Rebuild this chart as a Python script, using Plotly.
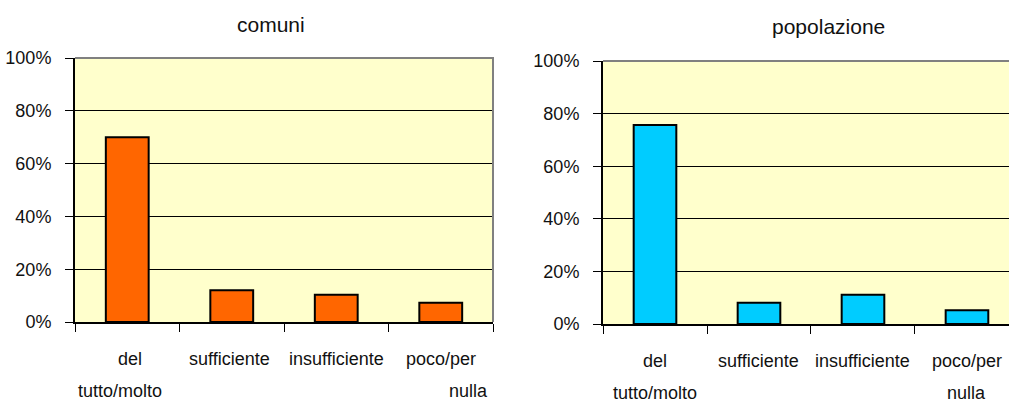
import plotly.graph_objects as go

categories = ["del tutto/molto", "sufficiente", "insufficiente", "poco/per nulla"]
label_line1 = ["del", "sufficiente", "insufficiente", "poco/per"]
label_line2 = ["tutto/molto", "", "", "nulla"]
comuni = [0.70, 0.12, 0.103, 0.073]
popolazione = [0.757, 0.081, 0.111, 0.052]
titles = ["comuni", "popolazione"]
y_ticks = [0, 0.2, 0.4, 0.6, 0.8, 1.0]

W, H = 1009, 403
TICK_FONT = dict(family="Liberation Sans, Arial", size=18, color="#111111")
TITLE_FONT = dict(family="Liberation Sans, Arial", size=21, color="#111111")

fig = go.Figure()
fig.add_trace(go.Bar(x=categories, y=comuni, marker=dict(color="#FF6600", line=dict(color="black", width=2)),
                     xaxis="x", yaxis="y", width=0.41, showlegend=False))
fig.add_trace(go.Bar(x=categories, y=popolazione, marker=dict(color="#00CCFF", line=dict(color="black", width=2)),
                     xaxis="x2", yaxis="y2", width=0.41, showlegend=False))

def px(v):
    return v / W

def py(v):
    return (H - v) / H

common_x = dict(type="category", showline=True, linecolor="black", linewidth=2, ticks="outside",
                tickson="boundaries", ticklen=8, tickcolor="black", tickwidth=1, showticklabels=False,
                showgrid=False, zeroline=False, fixedrange=True, automargin=False)
common_y = dict(range=[0, 1], tickvals=y_ticks, tickformat=".0%", showline=True, linecolor="black", linewidth=2,
                ticks="outside", ticklen=8, tickcolor="black", tickwidth=1, showgrid=True, gridcolor="black",
                gridwidth=1, zeroline=False, tickfont=TICK_FONT, ticklabelstandoff=10, automargin=False,
                fixedrange=True)

fig.update_layout(
    width=W, height=H,
    margin=dict(l=0, r=0, t=0, b=0, autoexpand=False),
    paper_bgcolor="white",
    plot_bgcolor="#FFFFCC",
    bargap=0.6,
    xaxis=dict(common_x, domain=[px(75), px(493)], range=[-0.5, 3.5], anchor="y"),
    yaxis=dict(common_y, domain=[py(322), py(58)], anchor="x"),
    xaxis2=dict(common_x, domain=[px(603), 1.0], range=[-0.5, 3.404], anchor="y2"),
    yaxis2=dict(common_y, domain=[py(324), py(61)], anchor="x2"),
)

annotations = []
annotations.append(dict(text=titles[0], x=px(271), y=py(24), xref="paper", yref="paper", showarrow=False,
                        font=TITLE_FONT, xanchor="center", yanchor="middle"))
annotations.append(dict(text=titles[1], x=px(828), y=py(26), xref="paper", yref="paper", showarrow=False,
                        font=TITLE_FONT, xanchor="center", yanchor="middle"))

shifts = {
    "x": ([3, -2, 0, 0], [-7, 0, 0, 28]),
    "x2": ([0, 0, 0, 0], [0, 0, 0, 0]),
}
for xa, ybot in (("x", 322), ("x2", 324)):
    s1, s2 = shifts[xa]
    for i, (c, l1, l2) in enumerate(zip(categories, label_line1, label_line2)):
        annotations.append(dict(text=l1, x=c, xref=xa, y=py(ybot + 37), yref="paper", showarrow=False,
                                font=TICK_FONT, xanchor="center", yanchor="middle", xshift=s1[i]))
        if l2:
            annotations.append(dict(text=l2, x=c, xref=xa, y=py(ybot + 69), yref="paper", showarrow=False,
                                    font=TICK_FONT, xanchor="center", yanchor="middle", xshift=s2[i]))
fig.update_layout(annotations=annotations)

fig.add_shape(type="path", path="M 0,1 L 1,1 L 1,0", xref="x domain", yref="y domain",
              line=dict(color="#808080", width=2))
fig.add_shape(type="line", x0=0, x1=1, y0=1, y1=1, xref="x2 domain", yref="y2 domain",
              line=dict(color="#808080", width=2))

fig.write_html("out.html", config={"displayModeBar": False},
               post_script="document.body.style.margin='0';document.body.style.overflow='hidden';")
